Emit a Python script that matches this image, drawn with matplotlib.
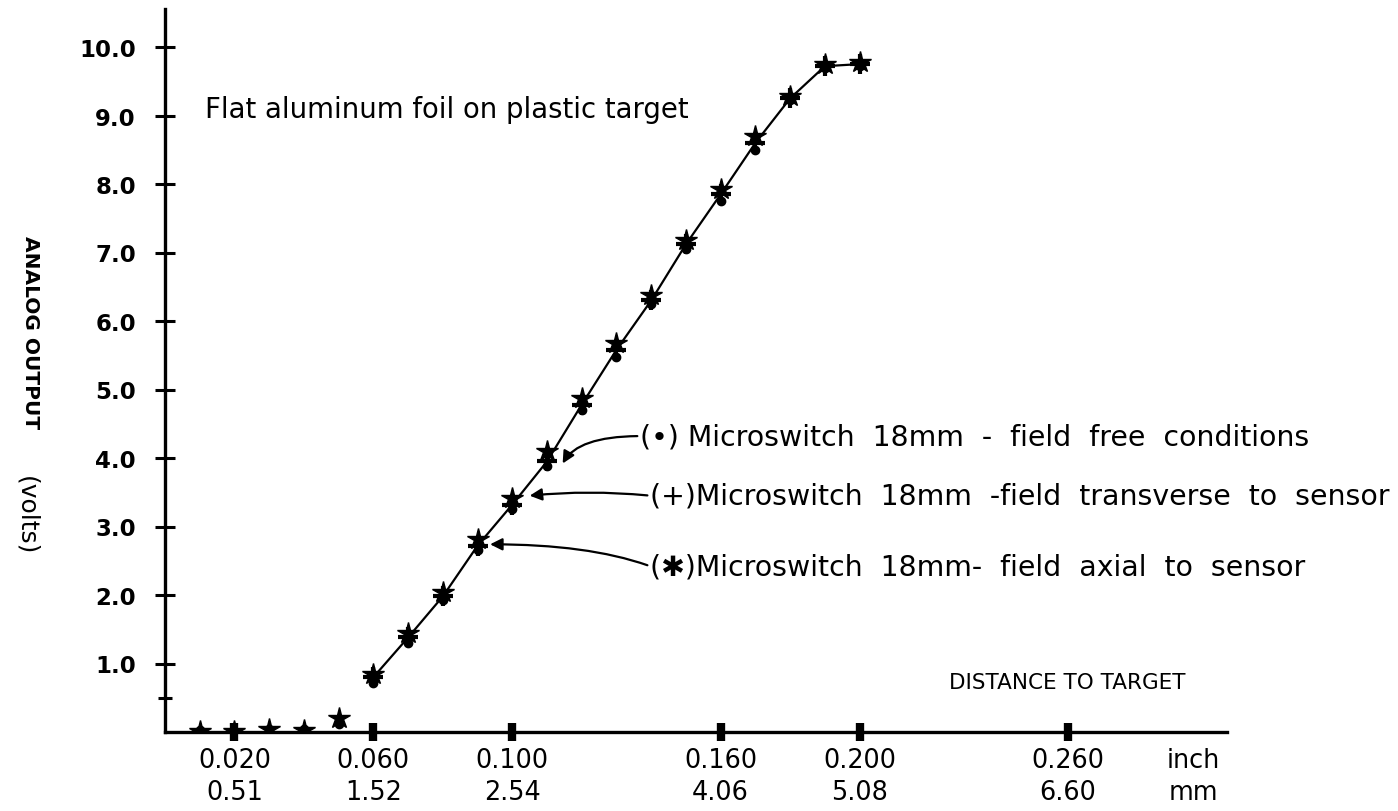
import matplotlib.pyplot as plt
import numpy as np

plt.rcParams['font.family'] = ['DejaVu Sans']

# distance to target (inch) and analog output (volts) for the three field conditions
distance_in = [0.010, 0.020, 0.030, 0.040, 0.050, 0.060, 0.070, 0.080, 0.090, 0.100,
               0.110, 0.120, 0.130, 0.140, 0.150, 0.160, 0.170, 0.180, 0.190, 0.200]
field_free = [0.03, 0.02, 0.05, 0.04, 0.12, 0.72, 1.30, 1.92, 2.66, 3.25,
              3.88, 4.70, 5.48, 6.25, 7.05, 7.75, 8.50, 9.22, 9.70, 9.72]
field_transverse = [0.02, 0.03, 0.06, 0.05, 0.22, 0.80, 1.38, 1.98, 2.72, 3.32,
                    3.95, 4.78, 5.58, 6.30, 7.12, 7.85, 8.60, 9.25, 9.72, 9.75]
field_axial = [0.01, 0.02, 0.04, 0.03, 0.20, 0.85, 1.45, 2.05, 2.82, 3.42,
               4.10, 4.88, 5.68, 6.38, 7.18, 7.92, 8.70, 9.28, 9.75, 9.78]

tick_inch = [0.020, 0.060, 0.100, 0.160, 0.200, 0.260]
tick_inch_labels = ['0.020', '0.060', '0.100', '0.160', '0.200', '0.260']
tick_mm_labels = ['0.51', '1.52', '2.54', '4.06', '5.08', '6.60']
volt_ticks = [1.0, 2.0, 3.0, 4.0, 5.0, 6.0, 7.0, 8.0, 9.0, 10.0]

fig = plt.figure(figsize=(13.98, 8.12), dpi=100)
ax = fig.add_axes([165 / 1398, 79 / 812, (1227 - 165) / 1398, (733 - 10) / 812])
ax.set_xlim(0, (1227 - 165) / 3473)
ax.set_ylim(0, (733 - 10) / 68.5)

for side in ('top', 'right'):
    ax.spines[side].set_visible(False)
for side in ('left', 'bottom'):
    ax.spines[side].set_linewidth(2.4)

# curve through the readings from 0.060 inch upward
x = np.array(distance_in)
curve = np.array(field_transverse)
ax.plot(x[5:], curve[5:], color='black', lw=1.6, zorder=2)

ax.plot(x, field_free, ls='none', marker='o', ms=6, color='black', zorder=3)
ax.plot(x[5:], field_transverse[5:], ls='none', marker='+', ms=14, mew=3, color='black', zorder=3)
ax.plot(x[:5], field_transverse[:5], ls='none', marker='+', ms=8, mew=2, color='black', zorder=3)
ax.plot(x, field_axial, ls='none', marker='*', ms=16, color='black', zorder=3)

# x ticks: inch with mm underneath, plus the unit column
xt = tick_inch + [0.296]
xl = [f'{a}\n{b}' for a, b in zip(tick_inch_labels, tick_mm_labels)] + ['inch\nmm']
ax.set_xticks(xt)
ax.set_xticklabels(xl, fontsize=18.4, linespacing=1.3)
ax.tick_params(axis='x', direction='inout', length=13, width=6, pad=4)
ax.xaxis.get_major_ticks()[-1].tick1line.set_visible(False)

ax.set_yticks(volt_ticks)
ax.set_yticklabels([f'{v:.1f}' for v in volt_ticks], fontsize=16.5, fontweight='bold')
ax.set_yticks([0.5], minor=True)
ax.tick_params(axis='y', which='major', direction='inout', length=14, width=2.2, pad=14)
ax.tick_params(axis='y', which='minor', direction='inout', length=10, width=2.2)

fig.text(30 / 1398, 1 - 333 / 812, 'ANALOG OUTPUT', rotation=270, ha='center', va='center',
         fontsize=14.5, fontweight='bold')
fig.text(26 / 1398, 1 - 516 / 812, '(volts)', rotation=270, ha='center', va='center',
         fontsize=18)

ax.text(0.0115, 9.09, 'Flat aluminum foil on plastic target', fontsize=19.8,
        ha='left', va='center')
ax.text(0.2597, 0.73, 'DISTANCE TO TARGET', fontsize=15.5, ha='center', va='center')

label_style = dict(fontsize=20.4, ha='left', va='center')
ax.annotate('(•) Microswitch  18mm  -  field  free  conditions',
            xy=(0.1145, 3.92), xytext=(0.1368, 4.32), **label_style,
            arrowprops=dict(arrowstyle='-|>', color='black', lw=1.6, mutation_scale=18,
                            relpos=(0, 0.5), shrinkA=0, shrinkB=0,
                            connectionstyle='angle3,angleA=0,angleB=60'))
ax.annotate('(+)Microswitch  18mm  -field  transverse  to  sensor',
            xy=(0.105, 3.45), xytext=(0.1397, 3.45), **label_style,
            arrowprops=dict(arrowstyle='-|>', color='black', lw=1.6, mutation_scale=18,
                            relpos=(0, 0.5), shrinkA=0, shrinkB=0,
                            connectionstyle='arc3,rad=0.05'))
ax.annotate('(✱)Microswitch  18mm-  field  axial  to  sensor',
            xy=(0.0936, 2.74), xytext=(0.1397, 2.42), **label_style,
            arrowprops=dict(arrowstyle='-|>', color='black', lw=1.6, mutation_scale=18,
                            relpos=(0, 0.5), shrinkA=0, shrinkB=0,
                            connectionstyle='angle3,angleA=-20,angleB=0'))

fig.savefig('out.png', dpi=100)
